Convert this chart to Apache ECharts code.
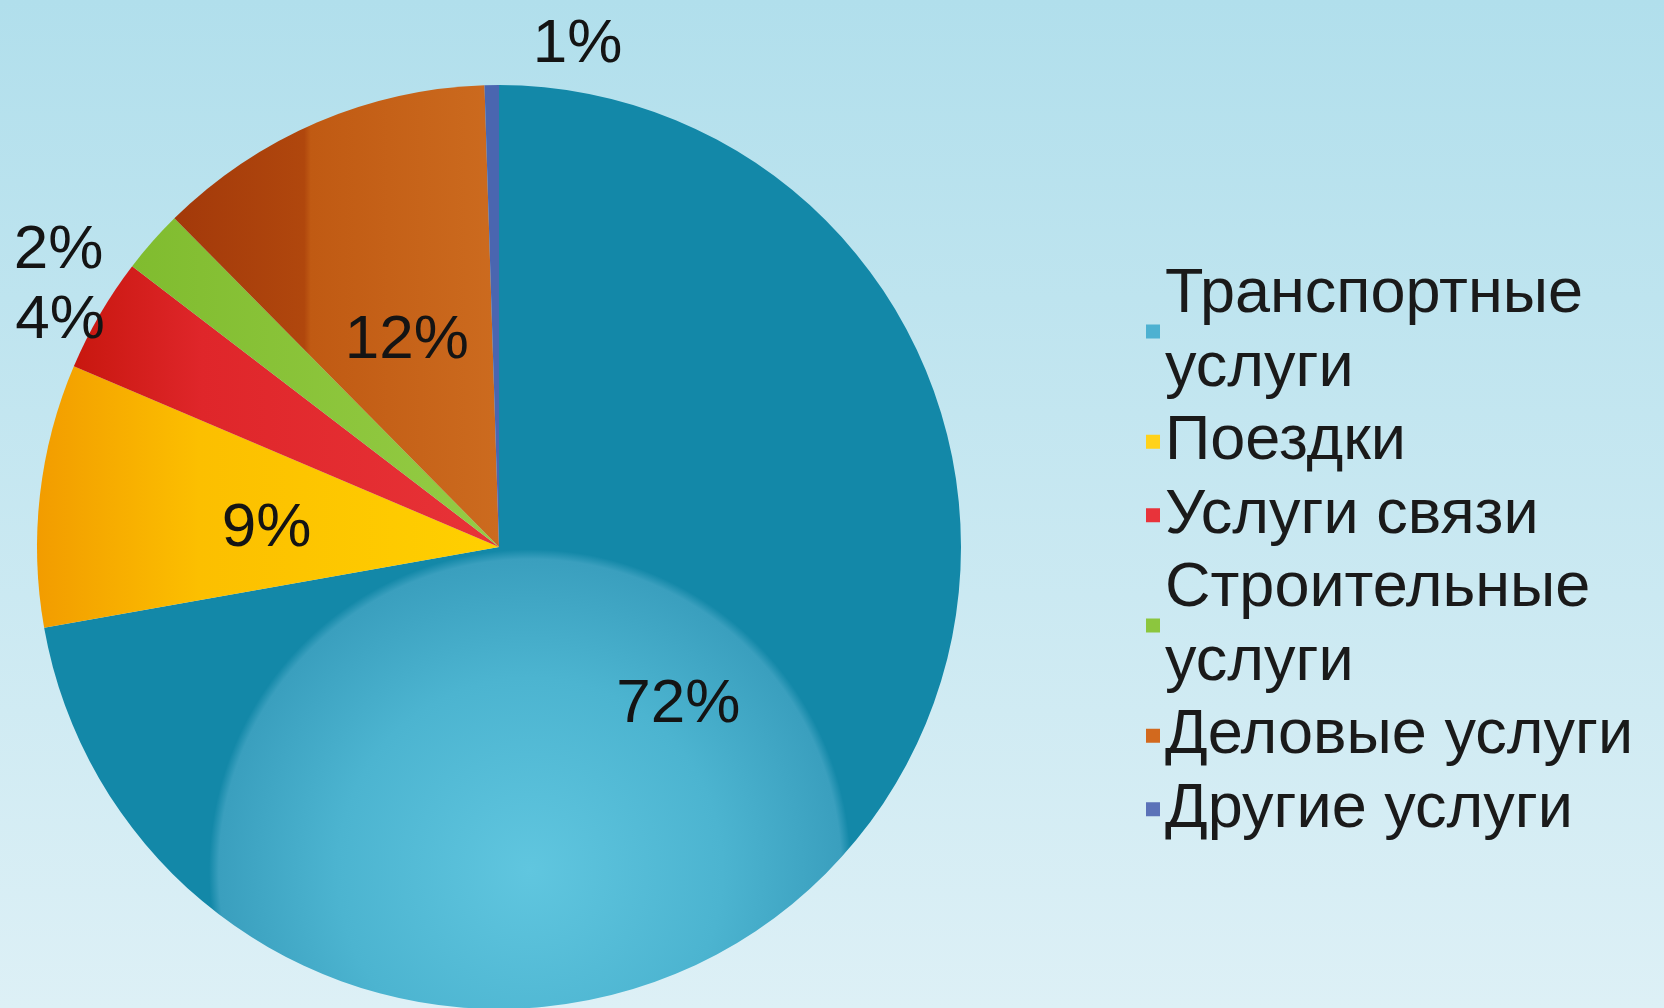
<!DOCTYPE html>
<html>
<head>
<meta charset="utf-8">
<title>Структура услуг</title>
<script src="https://cdn.jsdelivr.net/npm/echarts@6/dist/echarts.min.js"></script>
<style>
  html, body { margin: 0; padding: 0; }
  #chart { width: 1664px; height: 1008px; }
</style>
</head>
<body>
<div id="chart"></div>
<script>
// категории (порядок по часовой стрелке от 12 часов)
const categories = ['Транспортные услуги', 'Поездки', 'Услуги связи', 'Строительные услуги', 'Деловые услуги', 'Другие услуги'];
const shares = [72.2, 9.2, 4.0, 2.2, 11.9, 0.5];
// какие подписи стоят снаружи круга
const outsideLabels = [false, false, true, true, false, true];

const FONT = "'Liberation Sans', Arial, sans-serif";

// заливки секторов (градиенты как в оригинале)
const fills = [
  { type: 'radial', x: 0.53, y: 0.85, r: 0.35, colorStops: [
    { offset: 0, color: '#60c6df' }, { offset: 0.6, color: '#4cb4d0' },
    { offset: 0.97, color: '#3a9fbe' }, { offset: 1, color: '#1388a8' } ] },
  { type: 'linear', x: 0, y: 0, x2: 1, y2: 0, colorStops: [
    { offset: 0, color: '#f29c00' }, { offset: 0.35, color: '#fcbf00' }, { offset: 1, color: '#ffd000' } ] },
  { type: 'linear', x: 0, y: 0, x2: 1, y2: 0, colorStops: [
    { offset: 0, color: '#c8170f' }, { offset: 0.3, color: '#df262a' }, { offset: 1, color: '#e83338' } ] },
  { type: 'linear', x: 0, y: 0, x2: 1, y2: 0, colorStops: [
    { offset: 0, color: '#80bc2f' }, { offset: 1, color: '#95cc45' } ] },
  { type: 'linear', x: 0, y: 0, x2: 1, y2: 0, colorStops: [
    { offset: 0, color: '#a3390a' }, { offset: 0.4, color: '#b0470d' },
    { offset: 0.42, color: '#c05a13' }, { offset: 1, color: '#cc6b1f' } ] },
  '#4a66b0'
];
// цвета значков легенды
const legendColors = ['#4db1d1', '#ffd21a', '#e8333a', '#8cc63e', '#d2691e', '#5b72b8'];

// сдвиги подписей (dx, dy)
const labelShift = {
  0: { dy: 8 },
  1: { dy: 8 },
  2: { dx: 10, dy: 7 },
  3: { dx: -44, dy: 9 },
  4: { dy: 9 },
  5: { dx: 46, dy: -40, align: 'left' }
};

const chart = echarts.init(document.getElementById('chart'));

const option = {
  backgroundColor: {
    type: 'linear', x: 0, y: 0, x2: 0, y2: 1,
    colorStops: [{ offset: 0, color: '#b1dfec' }, { offset: 1, color: '#ddf0f6' }]
  },
  animation: false,
  legend: {
    orient: 'vertical',
    left: 1146,
    top: 258,
    padding: 0,
    itemGap: 0,
    itemWidth: 14,
    itemHeight: 14,
    icon: 'rect',
    selectedMode: false,
    // длинные названия переносим на вторую строку
    formatter: name => name.length > 15 ? name.replace(' ', '\n') : name,
    textStyle: {
      fontFamily: FONT,
      fontSize: 63,
      lineHeight: 73.5,
      color: '#1a1a1a'
    },
    data: categories.map((name, i) => ({ name: name, itemStyle: { color: legendColors[i] } }))
  },
  series: [{
    type: 'pie',
    center: [499, 547],
    radius: 462,
    startAngle: 90,
    clockwise: true,
    avoidLabelOverlap: false,
    emphasis: { disabled: true },
    label: {
      show: true,
      fontFamily: FONT,
      fontSize: 62,
      color: '#141414',
      formatter: p => Math.round(p.percent) + '%'
    },
    labelLine: { show: false, length: 0, length2: 0 },
    labelLayout: function (params) {
      return labelShift[params.dataIndex] || {};
    },
    data: categories.map((name, i) => ({
      name: name,
      value: shares[i],
      itemStyle: { color: fills[i] },
      label: { position: outsideLabels[i] ? 'outside' : 'inner' }
    }))
  }]
};

chart.setOption(option);
</script>
</body>
</html>
